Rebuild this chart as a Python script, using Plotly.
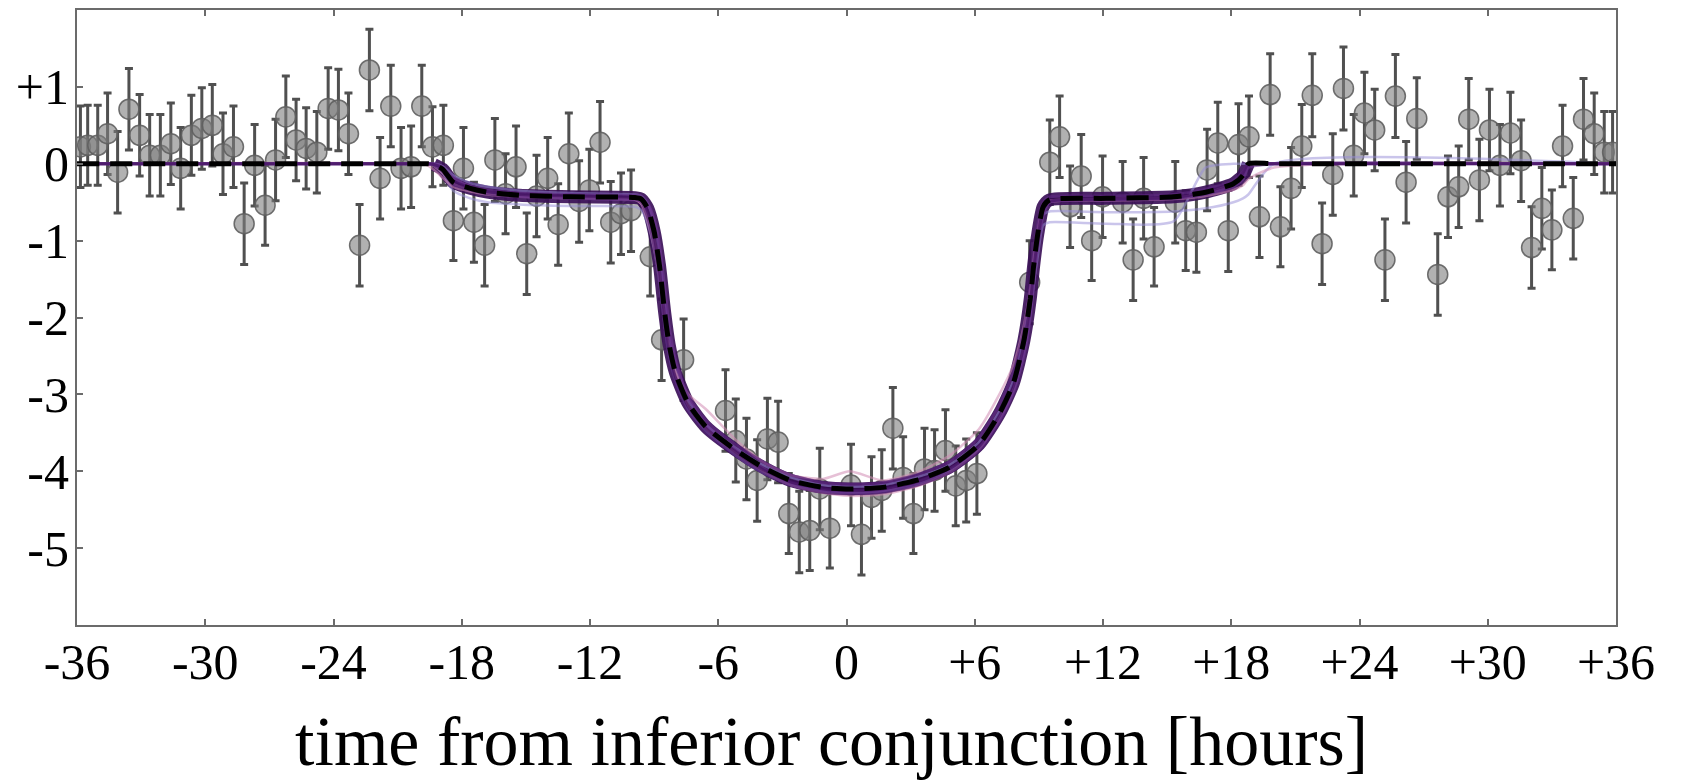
import plotly.graph_objects as go

# ---------------- data ----------------
t_hours = [-35.84, -35.50, -35.03, -34.57, -34.10, -33.57, -33.07, -32.60, -32.10, -31.61,
           -31.15, -30.65, -30.16, -29.67, -29.17, -28.68, -28.18, -27.69, -27.20, -26.71,
           -26.23, -25.75, -25.28, -24.78, -24.25, -23.77, -23.30, -22.78, -22.32, -21.82,
           -21.32, -20.84, -20.37, -19.87, -19.37, -18.86, -18.39, -17.92, -17.43, -16.93,
           -16.45, -15.95, -15.46, -14.96, -14.50, -13.98, -13.49, -12.99, -12.51, -12.03,
           -11.53, -11.03, -10.55, -10.08, -9.18, -8.65, -7.62, -5.66, -5.18, -4.68,
           -4.18, -3.70, -3.20, -2.70, -2.21, -1.72, -1.25, -0.78, 0.21, 0.70,
           1.17, 1.65, 2.17, 2.65, 3.13, 3.65, 4.12, 4.63, 5.11, 5.60,
           6.10, 8.57, 9.51, 9.97, 10.46, 10.98, 11.47, 11.98, 12.92, 13.41,
           13.90, 14.39, 15.38, 15.87, 16.37, 16.87, 17.37, 17.86, 18.34, 18.83,
           19.32, 19.82, 20.30, 20.80, 21.30, 21.79, 22.25, 22.75, 23.25, 23.73,
           24.23, 24.71, 25.19, 25.68, 26.18, 26.68, 27.66, 28.14, 28.64, 29.11,
           29.61, 30.08, 30.57, 31.06, 31.56, 32.05, 32.53, 33.00, 33.50, 34.00,
           34.48, 34.98, 35.45, 35.84]
flux = [0.22, 0.24, 0.24, 0.39, -0.11, 0.71, 0.37, 0.11, 0.11, 0.26,
        -0.06, 0.37, 0.46, 0.50, 0.13, 0.22, -0.78, -0.02, -0.54, 0.05,
        0.61, 0.31, 0.20, 0.15, 0.72, 0.70, 0.39, -1.06, 1.22, -0.19,
        0.75, -0.06, -0.04, 0.75, 0.22, 0.24, -0.74, -0.06, -0.76, -1.06,
        0.05, -0.39, -0.04, -1.17, -0.42, -0.19, -0.79, 0.13, -0.49, -0.34,
        0.28, -0.76, -0.65, -0.61, -1.21, -2.29, -2.55, -3.21, -3.60, -3.84,
        -4.12, -3.58, -3.62, -4.55, -4.79, -4.77, -4.23, -4.74, -4.18, -4.82,
        -4.34, -4.25, -3.44, -4.08, -4.55, -3.97, -3.99, -3.73, -4.19, -4.12,
        -4.03, -1.54, 0.02, 0.35, -0.56, -0.16, -1.00, -0.43, -0.50, -1.25,
        -0.45, -1.08, -0.50, -0.87, -0.89, -0.08, 0.27, -0.87, 0.25, 0.35,
        -0.69, 0.90, -0.82, -0.32, 0.23, 0.89, -1.04, -0.14, 0.98, 0.11,
        0.66, 0.44, -1.25, 0.88, -0.24, 0.59, -1.44, -0.43, -0.30, 0.58,
        -0.21, 0.44, -0.02, 0.40, 0.04, -1.09, -0.58, -0.86, 0.23, -0.71,
        0.58, 0.39, 0.15, 0.15]
flux_err = [0.53, 0.52, 0.52, 0.53, 0.53, 0.53, 0.53, 0.53, 0.53, 0.53,
            0.53, 0.52, 0.53, 0.53, 0.53, 0.53, 0.53, 0.53, 0.52, 0.53,
            0.53, 0.53, 0.53, 0.53, 0.53, 0.53, 0.53, 0.53, 0.53, 0.53,
            0.53, 0.53, 0.53, 0.53, 0.52, 0.52, 0.52, 0.53, 0.52, 0.53,
            0.54, 0.52, 0.53, 0.53, 0.53, 0.53, 0.53, 0.53, 0.53, 0.53,
            0.53, 0.53, 0.53, 0.53, 0.51, 0.53, 0.53, 0.53, 0.54, 0.53,
            0.53, 0.53, 0.53, 0.52, 0.53, 0.52, 0.53, 0.52, 0.53, 0.53,
            0.53, 0.53, 0.53, 0.53, 0.52, 0.53, 0.53, 0.53, 0.52, 0.54,
            0.53, 0.54, 0.55, 0.53, 0.53, 0.54, 0.52, 0.53, 0.53, 0.53,
            0.53, 0.51, 0.53, 0.52, 0.52, 0.53, 0.53, 0.53, 0.53, 0.53,
            0.53, 0.53, 0.52, 0.53, 0.54, 0.54, 0.53, 0.53, 0.54, 0.53,
            0.53, 0.53, 0.53, 0.54, 0.53, 0.53, 0.53, 0.53, 0.53, 0.53,
            0.53, 0.53, 0.53, 0.53, 0.53, 0.53, 0.53, 0.52, 0.53, 0.53,
            0.53, 0.53, 0.53, 0.53]

model_t = [-36, -20.0, -19.6, -19.3, -18.9, -18.4, -17.6, -16.8, -15.3, -12.9,
           -9.9, -9.6, -9.3, -9.0, -8.75, -8.5, -8.3, -8.0, -7.4, -6.55,
           -5.15, -3.9, -2.6, -1.1, 0.15, 1.7, 3.25, 4.8, 6.2, 7.15,
           7.8, 8.3, 8.6, 8.75, 8.95, 9.2, 9.5, 12.15, 15.3, 16.8,
           18.1, 18.55, 18.8, 20.0, 36]
model_best = [0, 0, 0, -0.01, -0.07, -0.24, -0.32, -0.37, -0.41, -0.43,
              -0.44, -0.46, -0.58, -0.88, -1.32, -1.95, -2.35, -2.72, -3.12, -3.43,
              -3.73, -3.95, -4.12, -4.21, -4.23, -4.21, -4.12, -3.95, -3.65, -3.25,
              -2.86, -2.30, -1.75, -1.34, -0.91, -0.56, -0.47, -0.45, -0.43, -0.37,
              -0.26, -0.15, 0.0, 0, 0]
sample_a = [0, 0, 0, -0.02, -0.10, -0.27, -0.34, -0.39, -0.43, -0.45,
            -0.46, -0.50, -0.70, -1.08, -1.55, -2.15, -2.52, -2.85, -3.22, -3.50,
            -3.80, -4.02, -4.18, -4.27, -4.29, -4.27, -4.18, -4.02, -3.74, -3.36,
            -2.98, -2.45, -1.92, -1.50, -1.05, -0.65, -0.50, -0.47, -0.45, -0.39,
            -0.28, -0.16, -0.02, 0, 0]
sample_b = [0, 0, 0, 0, -0.05, -0.20, -0.29, -0.34, -0.38, -0.40,
            -0.41, -0.42, -0.50, -0.75, -1.15, -1.78, -2.20, -2.60, -3.02, -3.35,
            -3.66, -3.88, -4.05, -4.15, -4.17, -4.15, -4.05, -3.88, -3.56, -3.14,
            -2.72, -2.15, -1.58, -1.18, -0.78, -0.50, -0.43, -0.42, -0.40, -0.33,
            -0.22, -0.10, 0, 0, 0]
sample_c = [0, 0, 0, 0, -0.04, -0.18, -0.30, -0.36, -0.42, -0.45,
            -0.47, -0.48, -0.53, -0.72, -1.05, -1.62, -2.10, -2.55, -3.05, -3.40,
            -3.72, -3.96, -4.15, -4.25, -4.27, -4.25, -4.15, -3.98, -3.70, -3.34,
            -2.98, -2.50, -2.00, -1.60, -1.10, -0.68, -0.50, -0.47, -0.45, -0.40,
            -0.30, -0.20, -0.05, 0, 0]
sample_d = [0, 0, 0, -0.03, -0.12, -0.26, -0.33, -0.38, -0.42, -0.44,
            -0.46, -0.52, -0.75, -1.10, -1.50, -2.05, -2.40, -2.70, -3.00, -3.20,
            -3.60, -3.88, -4.05, -4.10, -4.00, -4.12, -4.02, -3.80, -3.45, -3.00,
            -2.62, -2.10, -1.62, -1.25, -0.86, -0.55, -0.48, -0.46, -0.44, -0.38,
            -0.25, -0.12, 0, 0, 0]
sample_e = [0, 0, 0, -0.02, -0.12, -0.35, -0.45, -0.50, -0.53, -0.55,
            -0.56, -0.60, -0.78, -1.12, -1.55, -2.12, -2.50, -2.82, -3.20, -3.48,
            -3.80, -4.02, -4.18, -4.26, -4.28, -4.26, -4.18, -4.00, -3.70, -3.30,
            -2.95, -2.45, -1.95, -1.60, -1.20, -0.80, -0.76, -0.78, -0.75, -0.05,
            0, 0, 0, 0, 0]
sample_f = [0, 0, 0, 0, -0.03, -0.15, -0.25, -0.30, -0.35, -0.38,
            -0.40, -0.42, -0.52, -0.80, -1.20, -1.85, -2.28, -2.66, -3.08, -3.40,
            -3.70, -3.92, -4.08, -4.18, -4.20, -4.18, -4.08, -3.92, -3.62, -3.22,
            -2.82, -2.25, -1.70, -1.30, -0.92, -0.66, -0.62, -0.63, -0.62, -0.58,
            -0.50, -0.45, -0.40, 0, 0]
sample_g = [0, 0, -0.02, -0.08, -0.18, -0.30, -0.36, -0.40, -0.43, -0.45,
            -0.47, -0.52, -0.68, -0.98, -1.40, -2.00, -2.38, -2.75, -3.15, -3.45,
            -3.77, -4.00, -4.18, -4.28, -4.32, -4.30, -4.20, -4.02, -3.72, -3.32,
            -2.95, -2.40, -1.85, -1.45, -1.02, -0.62, -0.50, -0.48, -0.46, -0.42,
            -0.34, -0.28, -0.20, -0.05, 0]
sample_h = [0, 0, 0, -0.01, -0.06, -0.22, -0.31, -0.36, -0.40, -0.42,
            -0.44, -0.47, -0.62, -0.95, -1.40, -2.02, -2.42, -2.78, -3.16, -3.45,
            -3.76, -3.98, -4.14, -4.23, -4.25, -4.23, -4.14, -3.97, -3.68, -3.28,
            -2.90, -2.36, -1.82, -1.40, -0.97, -0.60, -0.49, -0.46, -0.44, -0.36,
            -0.24, -0.12, 0, 0, 0]

x_tickvals = [-36, -30, -24, -18, -12, -6, 0, 6, 12, 18, 24, 30, 36]
x_ticktext = ["-36", "-30", "-24", "-18", "-12", "-6", "0", "+6", "+12", "+18", "+24", "+30", "+36"]
y_tickvals = [-5, -4, -3, -2, -1, 0, 1]
y_ticktext = ["-5", "-4", "-3", "-2", "-1", "0", "+1"]
x_title = "time from inferior conjunction [hours]"

FONT = "Liberation Serif"

fig = go.Figure()

# data points with error bars
fig.add_trace(go.Scatter(
    x=t_hours, y=flux, mode="markers",
    marker=dict(size=20, color="rgba(125,125,125,0.6)",
                line=dict(color="rgba(95,95,95,0.9)", width=1.5)),
    error_y=dict(type="data", array=flux_err, visible=True,
                 color="rgb(80,80,80)", thickness=3, width=4),
    showlegend=False, hoverinfo="skip"))

# thin dark base where all posterior models coincide
fig.add_trace(go.Scatter(
    x=model_t, y=model_best, mode="lines",
    line=dict(color="rgba(30,10,40,0.9)", width=2.5, shape="spline", smoothing=0.6),
    showlegend=False, hoverinfo="skip"))

# dark core band of posterior models (in-transit part only)
fig.add_trace(go.Scatter(
    x=model_t[3:43], y=model_best[3:43], mode="lines",
    line=dict(color="rgba(55,12,85,0.9)", width=13, shape="spline", smoothing=0.6),
    showlegend=False, hoverinfo="skip"))

samples = [
    (sample_e, "rgba(150,140,215,0.5)", 2.5),
    (sample_f, "rgba(150,140,215,0.5)", 2.5),
    (sample_d, "rgba(210,140,180,0.55)", 2.5),
    (sample_g, "rgba(210,140,180,0.55)", 2.5),
    (sample_a, "rgba(80,30,115,0.65)", 3),
    (sample_b, "rgba(95,40,130,0.6)", 3),
    (sample_c, "rgba(110,55,145,0.6)", 3),
    (sample_h, "rgba(70,20,100,0.75)", 3),
]
for vals, col, w in samples:
    fig.add_trace(go.Scatter(
        x=model_t, y=vals, mode="lines",
        line=dict(color=col, width=w, shape="spline", smoothing=0.6),
        showlegend=False, hoverinfo="skip"))

# best-fit model (dashed black)
fig.add_trace(go.Scatter(
    x=model_t, y=model_best, mode="lines",
    line=dict(color="black", width=5, dash="22px,11px", shape="spline", smoothing=0.6),
    showlegend=False, hoverinfo="skip"))

axis_common = dict(showgrid=False, zeroline=False, showline=True, automargin=False,
                   linecolor="#6b6b6b", linewidth=2, ticks="inside",
                   tickcolor="#6b6b6b", tickwidth=1.5, ticklen=6,
                   tickfont=dict(family=FONT, size=50, color="black"))

fig.update_xaxes(range=[-36, 36], tickmode="array", tickvals=x_tickvals,
                 ticktext=x_ticktext, mirror="ticks", ticklabelstandoff=-8,
                 **axis_common)
fig.update_yaxes(range=[-6, 2], tickmode="array", tickvals=y_tickvals,
                 ticktext=y_ticktext, mirror=True, ticklabelstandoff=-4,
                 **axis_common)

fig.add_annotation(text=x_title, xref="paper", yref="paper",
                   x=0.490, y=-0.190, xanchor="center", yanchor="middle",
                   showarrow=False, font=dict(family=FONT, size=70, color="black"))

# page body adds an 8 px offset, so the figure is 8 px smaller than the window
fig.update_layout(width=1674, height=772,
                  margin=dict(l=69, r=66, t=2, b=155),
                  paper_bgcolor="white", plot_bgcolor="white")

fig.write_html("out.html")
